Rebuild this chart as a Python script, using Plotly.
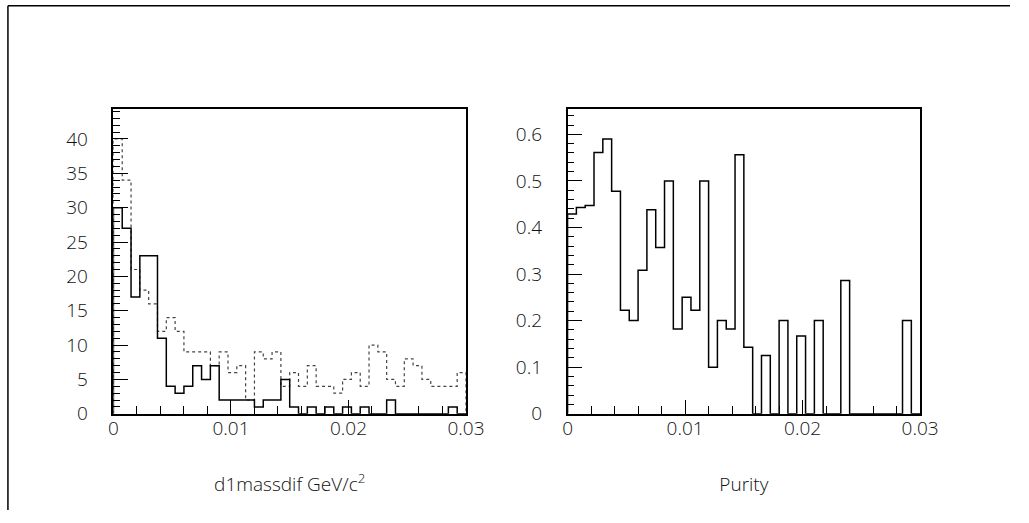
import plotly.graph_objects as go

# ---- data (40 bins from 0 to 0.03) ----
x_min = 0.0
x_max = 0.03
n_bins = 40

# left panel: d1massdif, solid histogram
mass_solid = [30, 27, 17, 23, 23, 11, 4, 3, 4, 7, 5, 7, 2, 2, 2, 2, 1, 2, 2, 5,
              1, 0, 1, 0, 1, 0, 1, 0, 1, 0, 0, 2, 0, 0, 0, 0, 0, 0, 1, 0]
# left panel: d1massdif, dotted histogram
mass_dotted = [40, 34, 21, 18, 16, 12, 14, 12, 9, 9, 9, 7, 9, 6, 7, 2, 9, 8, 9, 4,
               6, 4, 7, 4, 4, 3, 5, 6, 4, 10, 9, 5, 4, 8, 7, 5, 4, 4, 4, 6]
# right panel: purity per bin
purity = [0.429, 0.443, 0.447, 0.561, 0.590, 0.478, 0.222, 0.200, 0.308, 0.438,
          0.357, 0.500, 0.182, 0.250, 0.222, 0.500, 0.100, 0.200, 0.182, 0.556,
          0.143, 0.0, 0.125, 0.0, 0.200, 0.0, 0.167, 0.0, 0.200, 0.0,
          0.0, 0.286, 0.0, 0.0, 0.0, 0.0, 0.0, 0.0, 0.200, 0.0]

x_ticks = [0, 0.01, 0.02, 0.03]
x_title_left = "d1massdif GeV/c<sup>2</sup>"
x_title_right = "Purity"

W, H = 1029, 523
bw = (x_max - x_min) / n_bins
edges = [x_min + i * bw for i in range(n_bins + 1)]


def step_xy(vals):
    xs = [edges[0]] + edges[:n_bins] + [edges[n_bins], edges[n_bins]]
    ys = [0] + list(vals) + [vals[-1], 0]
    return xs, ys


fig = go.Figure()
xs, ys = step_xy(mass_dotted)
fig.add_trace(go.Scatter(x=xs, y=ys, mode="lines", line_shape="hv",
                         line=dict(color="#444", width=1.2, dash="dot"),
                         xaxis="x", yaxis="y", showlegend=False))
xs, ys = step_xy(mass_solid)
fig.add_trace(go.Scatter(x=xs, y=ys, mode="lines", line_shape="hv",
                         line=dict(color="black", width=1.5),
                         xaxis="x", yaxis="y", showlegend=False))
xs, ys = step_xy(purity)
fig.add_trace(go.Scatter(x=xs, y=ys, mode="lines", line_shape="hv",
                         line=dict(color="black", width=1.5),
                         xaxis="x2", yaxis="y2", showlegend=False))

FONT = dict(family="Open Sans, Liberation Sans, sans-serif", size=19,
            color="#111", weight=300)


def xaxis(dom, title, anchor):
    return dict(domain=dom, range=[x_min, x_max], tickvals=x_ticks,
                ticktext=[f"{v:g}" for v in x_ticks], anchor=anchor,
                ticks="inside", ticklen=14, tickwidth=1.3, tickcolor="black",
                minor=dict(dtick=0.002, tick0=0, ticks="inside", ticklen=8,
                           tickwidth=1.2, tickcolor="black", showgrid=False),
                showline=True, linecolor="black", linewidth=1.5, mirror=True,
                showgrid=False, zeroline=False, tickfont=FONT,
                ticklabelstandoff=-3,
                title=dict(text=title, font=FONT, standoff=37))


def yaxis(dom, rng, dtick, mdtick, anchor):
    return dict(domain=dom, range=rng, dtick=dtick, tick0=0, anchor=anchor,
                ticks="inside", ticklen=15, tickwidth=1.3, tickcolor="black",
                minor=dict(dtick=mdtick, tick0=0, ticks="inside", ticklen=7,
                           tickwidth=1.2, tickcolor="black", showgrid=False),
                showline=True, linecolor="black", linewidth=1.5, mirror=True,
                showgrid=False, zeroline=False, tickfont=FONT,
                ticklabelstandoff=20)


y_dom = [1 - 424.3 / H, 1 - 111.5 / H]
fig.update_layout(
    width=W, height=H, margin=dict(l=0, r=0, t=0, b=0), autosize=False,
    paper_bgcolor="white", plot_bgcolor="white",
    xaxis=xaxis([111 / W, 472 / W], x_title_left, "y"),
    yaxis=yaxis(y_dom, [0, 44.4], 5, 1, "x"),
    xaxis2=xaxis([576 / W, 937 / W], x_title_right, "y2"),
    yaxis2=yaxis(y_dom, [0, 0.655], 0.1, 0.02, "x2"),
)

# outer page frame (top and left edges)
fig.add_shape(type="line", xref="paper", yref="paper",
              x0=3 / W, x1=1, y0=1 - 6 / H, y1=1 - 6 / H,
              line=dict(color="black", width=1.5))
fig.add_shape(type="line", xref="paper", yref="paper",
              x0=3 / W, x1=3 / W, y0=0, y1=1 - 6 / H,
              line=dict(color="black", width=1.5))

fig.write_html(
    "out.html",
    config={"responsive": False, "displayModeBar": False},
    post_script="document.body.style.margin='0';"
                "document.body.style.overflow='hidden';"
                "document.documentElement.style.overflow='hidden';",
)
